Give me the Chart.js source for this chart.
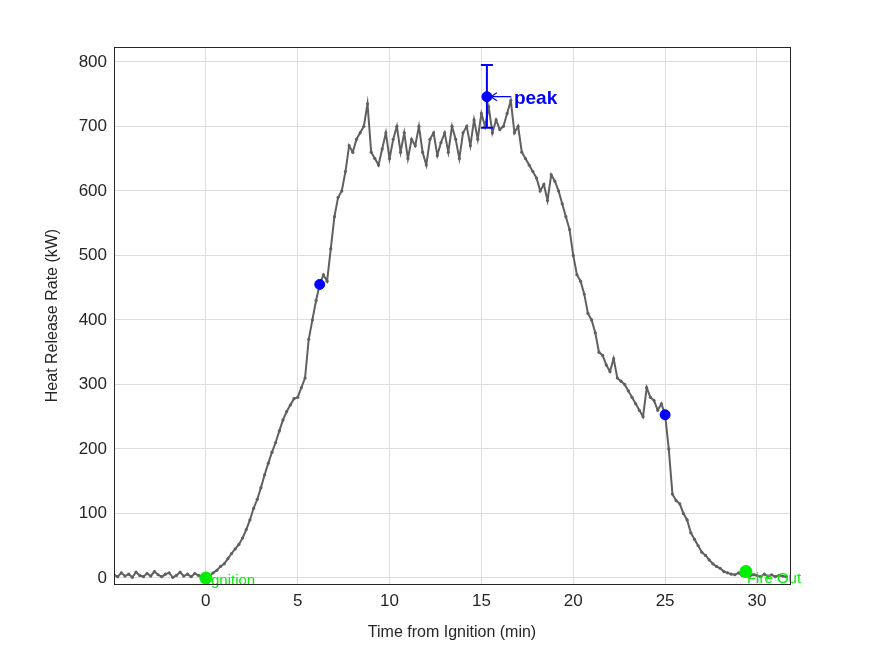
<!DOCTYPE html>
<html><head><meta charset="utf-8">
<script src="https://cdn.jsdelivr.net/npm/chart.js@4"></script>
<style>body{margin:0;background:#fff}canvas{display:block}</style>
</head><body>
<canvas id="c" width="875" height="656"></canvas>
<script>
const xStart = -5, xStep = 0.2;
const hrr = [
5,2,8,3,6,1,9,4,2,7,3,10,5,2,6,8,1,4,9,3,6,2,7,4,1,
0,3,8,12,18,22,30,38,45,52,62,75,90,108,122,140,160,178,195,210,228,245,258,268,278,
280,295,310,370,400,430,455,470,460,510,560,590,600,630,670,660,680,690,700,735,660,650,640,665,690,
650,680,700,660,690,650,680,670,700,660,640,680,690,655,675,690,660,700,680,650,690,700,670,710,680,
720,700,730,690,710,695,700,720,740,690,700,660,650,640,630,620,600,610,585,625,615,600,580,560,540,
500,470,460,440,410,400,380,350,345,330,320,340,310,305,300,290,280,270,260,250,295,280,275,260,270,
253,200,130,120,115,100,90,70,60,50,40,35,28,22,18,15,10,8,6,5,8,4,6,3,5,
4,2,6,3,5,2,4,3,2];
const keyX = [6.2, 15.3, 25.0];
const keyY = [455, 746, 253];
const peakErr = [698, 795];
const eventX = [0, 29.4];
const eventY = [0, 10];
const eventLabels = ['Ignition', 'Fire Out'];
const xTicks = [0,5,10,15,20,25,30];
const yTicks = [0,100,200,300,400,500,600,700,800];

const hrrPts = hrr.map((v,i)=>({x: +(xStart + i*xStep).toFixed(2), y: v}));
const FONT = '"Liberation Sans", Arial, sans-serif';

const deco = {
  id:'deco',
  afterDatasetsDraw(ch){
    const {ctx, chartArea:a, scales:{x,y}} = ch;
    ctx.save();
    const px = x.getPixelForValue(keyX[1]);
    const y1 = y.getPixelForValue(peakErr[0]), y2 = y.getPixelForValue(peakErr[1]);
    ctx.strokeStyle='#0000ff'; ctx.lineWidth=2;
    ctx.beginPath(); ctx.moveTo(px,y1); ctx.lineTo(px,y2);
    ctx.moveTo(px-6,y1); ctx.lineTo(px+6,y1); ctx.moveTo(px-6,y2); ctx.lineTo(px+6,y2); ctx.stroke();
    const py = y.getPixelForValue(keyY[1]);
    ctx.lineWidth=1.2;
    ctx.beginPath(); ctx.moveTo(px+4,py); ctx.lineTo(px+24,py);
    ctx.moveTo(px+4,py); ctx.lineTo(px+10,py-4); ctx.moveTo(px+4,py); ctx.lineTo(px+10,py+4); ctx.stroke();
    ctx.fillStyle='#0000ff'; ctx.font='bold 19px '+FONT; ctx.textBaseline='middle';
    ctx.fillText('peak', px+27, py+2);
    ctx.fillStyle='#00ee00'; ctx.font='15px '+FONT;
    eventX.forEach((ex,i)=>{
      ctx.fillText(eventLabels[i], x.getPixelForValue(ex)+1, y.getPixelForValue(eventY[i])+3+(i?4:0));
    });
    ctx.strokeStyle='#262626'; ctx.lineWidth=1;
    ctx.strokeRect(a.left+0.5,a.top+0.5,a.right-a.left,a.bottom-a.top);
    // axis titles
    ctx.fillStyle='#262626'; ctx.font='16px '+FONT; ctx.textAlign='center';
    ctx.fillText('Time from Ignition (min)', (a.left+a.right)/2, 633);
    ctx.translate(53,(a.top+a.bottom)/2); ctx.rotate(-Math.PI/2);
    ctx.fillText('Heat Release Rate (kW)', 0, 0);
    ctx.restore();
  }
};

new Chart(document.getElementById('c'), {
  type:'scatter',
  data:{datasets:[
    {data: keyX.map((v,i)=>({x:v,y:keyY[i]})), backgroundColor:'#0000ff', borderColor:'#0000ff', pointRadius:5, showLine:false, order:0},
    {data: eventX.map((v,i)=>({x:v,y:eventY[i]})), backgroundColor:'#00ee00', borderColor:'#00ee00', pointRadius:6, showLine:false, order:0},
    {data: hrrPts, showLine:true, borderColor:'#606060', backgroundColor:'#606060', borderWidth:2, pointRadius:1.6, pointBorderWidth:0, tension:0, order:1}
  ]},
  options:{
    responsive:false, animation:false, devicePixelRatio:1,
    layout:{padding:{left:0,right:85,top:47,bottom:0}},
    plugins:{legend:{display:false}, tooltip:{enabled:false}},
    scales:{
      x:{type:'linear', min:-5, max:31.8,
        afterBuildTicks(s){s.ticks = xTicks.map(v=>({value:v}));},
        afterFit(s){s.height=72;},
        grid:{color:'#dedede', drawTicks:false}, border:{display:false},
        ticks:{color:'#262626', font:{family:FONT,size:17}, padding:7, maxRotation:0},
        title:{display:false}},
      y:{min:-9.3, max:823,
        afterBuildTicks(s){s.ticks = yTicks.map(v=>({value:v}));},
        afterFit(s){s.width=114;},
        grid:{color:'#dedede', drawTicks:false}, border:{display:false},
        ticks:{color:'#262626', font:{family:FONT,size:17}, padding:7},
        title:{display:false}}
    }
  },
  plugins:[deco]
});
</script>
</body></html>
